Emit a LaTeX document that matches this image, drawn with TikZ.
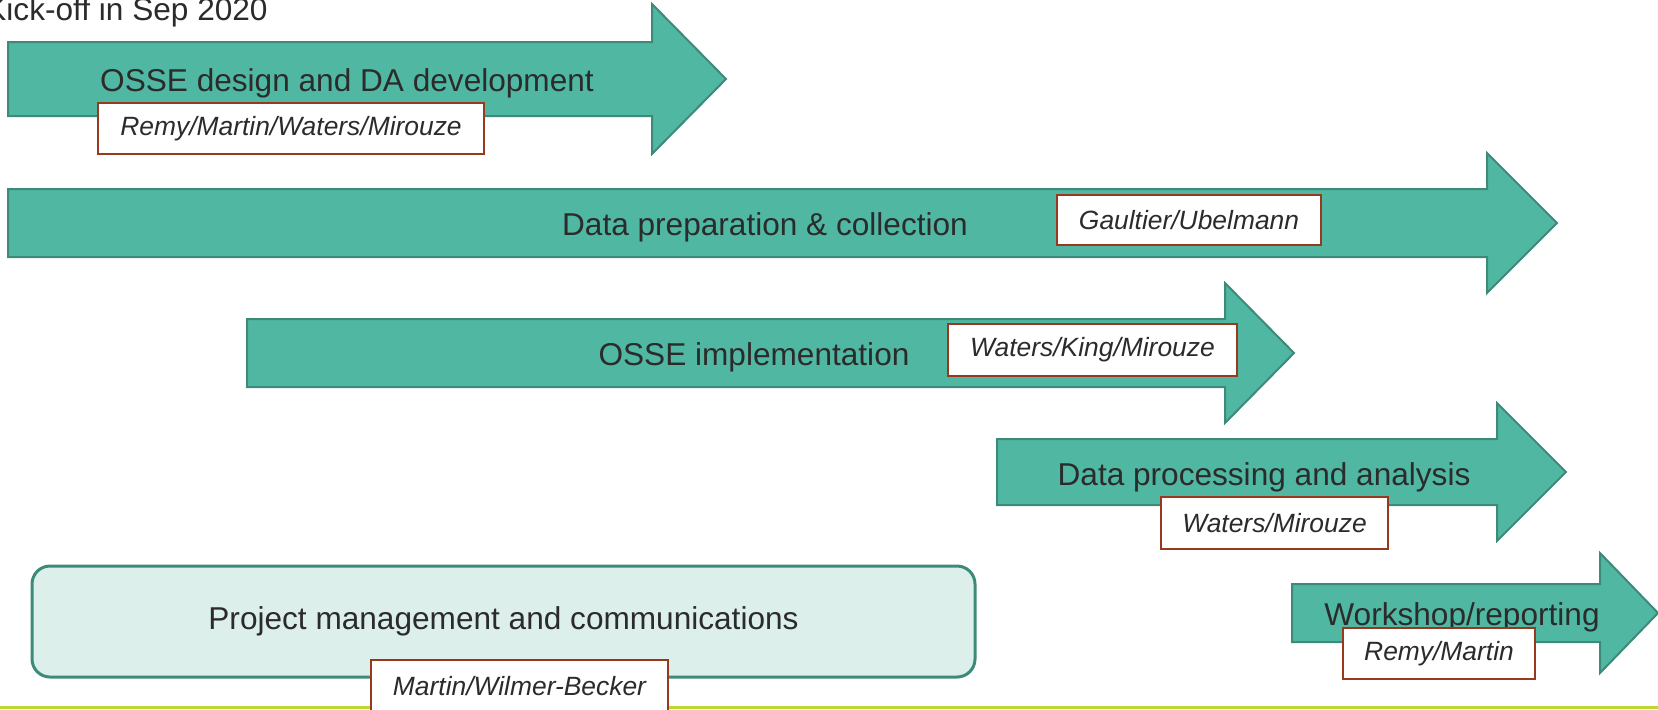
\documentclass[tikz,border=0pt]{standalone}
\usepackage{fontspec}
\setmainfont{Liberation Sans}
\definecolor{phasefill}{HTML}{50B8A2}
\definecolor{phaseline}{HTML}{3E8A78}
\definecolor{wholine}{HTML}{98391F}
\definecolor{mgmtfill}{HTML}{DCEFEB}
\definecolor{textgray}{HTML}{2B2B2B}
\definecolor{footgreen}{HTML}{BED62F}

\begin{document}
\begin{tikzpicture}[x=0.5pt,y=-0.5pt,
	phase/.style={draw=phaseline, fill=phasefill, line width=1pt},
	task/.style={font=\fontsize{15.8}{19}\selectfont, text=textgray, anchor=base, inner sep=0pt},
	who/.style={draw=wholine, fill=white, line width=1pt, text=textgray, inner sep=0pt,
		font=\fontsize{13.2}{16}\selectfont\itshape}]
\useasboundingbox (0,0) rectangle (1658,709);
\clip (0,0) rectangle (1658,709);

% start date
\node[task, anchor=base east] (kickoff) at (268,20) {Kick-off in Sep 2020};

% draw phase arrows: left / middle / half body / head base / half head / tip
\foreach \lx/\my/\bh/\hx/\hh/\tx in {8/79/37/652/75/726, 8/223/34/1487/70/1557,
	247/353/34/1225/70/1294, 997/472/33/1497/69/1566, 1292/613/29/1600/60/1658}{
	\draw[phase] (\lx,\my-\bh) -- (\hx,\my-\bh) -- (\hx,\my-\hh) -- (\tx,\my)
		-- (\hx,\my+\hh) -- (\hx,\my+\bh) -- (\lx,\my+\bh) -- cycle;
}

% phase names
\node[task] (design) at (347,91) {OSSE design and DA development};
\node[task] (prep) at (765,235) {Data preparation \& collection};
\node[task] (impl) at (754,365) {OSSE implementation};
\node[task] (proc) at (1264,485) {Data processing and analysis};
\node[task] (report) at (1462,625) {Workshop/reporting};

% project management box
\node[draw=phaseline, fill=mgmtfill, line width=1.5pt, rounded corners=9pt,
	minimum width=471.5pt, minimum height=55.5pt, inner sep=0pt,
	font=\fontsize{15.8}{19}\selectfont, text=textgray] (mgmt) at (503.5,621.5)
	{Project management and communications};

% bottom rule
\draw[footgreen, line width=1.5pt] (0,707.5) -- (1658,707.5);

% who does what
\node[who, minimum width=193pt, minimum height=25.5pt] (designwho) at (291,128.5) {Remy/Martin/Waters/Mirouze};
\node[who, minimum width=132pt, minimum height=25pt] (prepwho) at (1189,220) {Gaultier/Ubelmann};
\node[who, minimum width=144.5pt, minimum height=26pt] (implwho) at (1092.5,350) {Waters/King/Mirouze};
\node[who, minimum width=113.5pt, minimum height=26pt] (procwho) at (1274.5,523) {Waters/Mirouze};
\node[who, minimum width=96pt, minimum height=25.5pt] (reportwho) at (1439,653.5) {Remy/Martin};
\node[who, minimum width=148.5pt, minimum height=26pt] (mgmtwho) at (519.5,686) {Martin/Wilmer-Becker};
\end{tikzpicture}
\end{document}
